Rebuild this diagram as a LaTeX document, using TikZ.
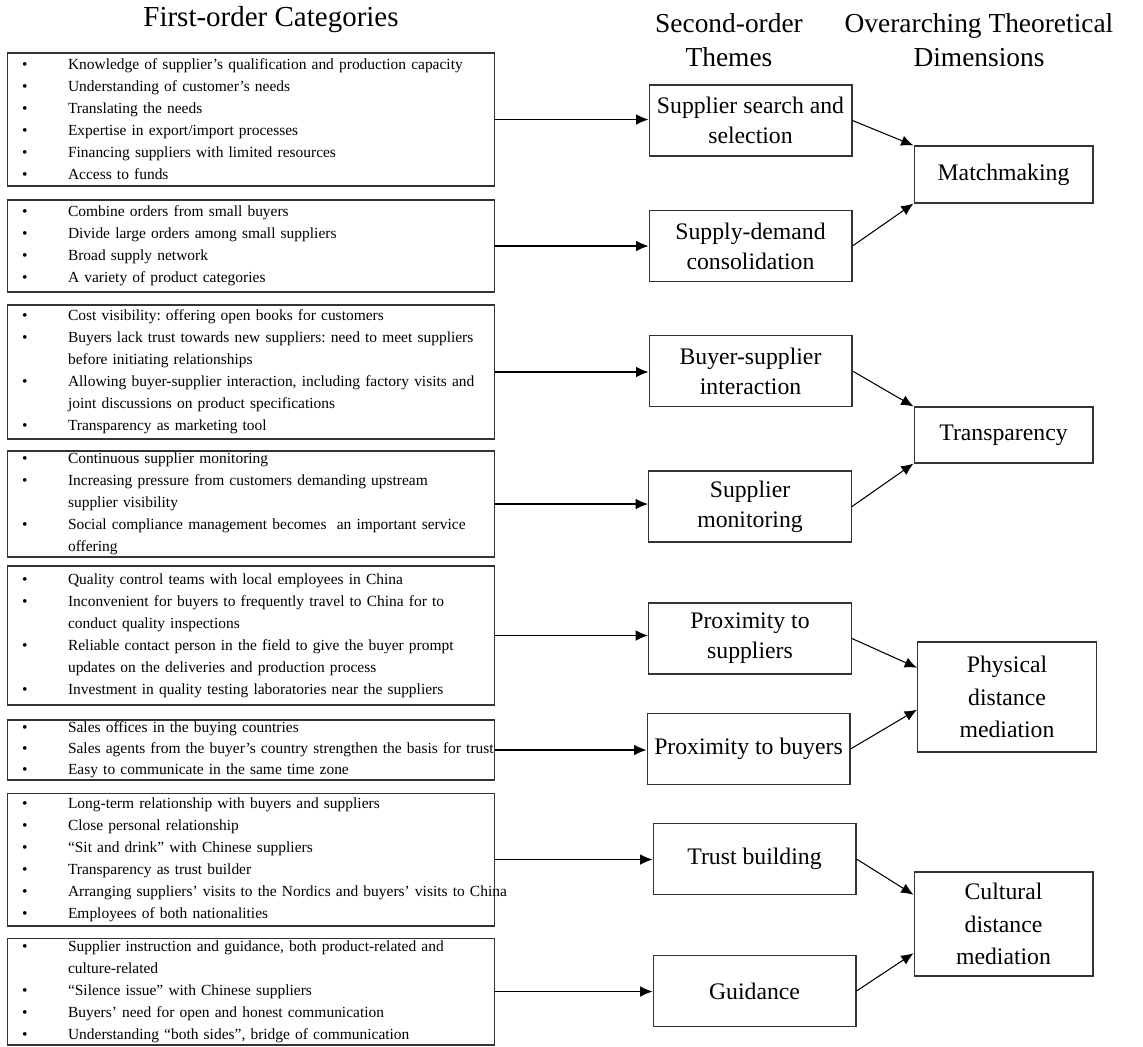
\documentclass[tikz,border=0pt]{standalone}
\usepackage{fontspec}
\setmainfont{Liberation Serif}
\frenchspacing
\usepackage{tikz}
\usetikzlibrary{shapes,arrows.meta}
\tikzstyle{cat} = [rectangle, draw=black!80, line width=0.6pt, text width=9.76cm, inner xsep=0pt, inner ysep=0pt, align=left, font=\fontsize{8.8}{12.5}\selectfont]
\tikzstyle{theme} = [rectangle, draw=black!80, line width=0.6pt, minimum width=4.06cm, minimum height=1.42cm, inner xsep=2pt, align=center, font=\fontsize{13.5}{17}\selectfont]
\tikzstyle{dim} = [rectangle, draw=black!80, line width=0.6pt, minimum width=3.58cm, inner xsep=2pt, align=center, font=\fontsize{13.5}{18.5}\selectfont]
\tikzstyle{head} = [align=center, font=\fontsize{15.6}{19.3}\selectfont]
\tikzstyle{line} = [draw, line width=0.6pt, -{Latex[length=7pt,width=6pt]}]
\newcommand{\bl}{\hspace*{0.3cm}\makebox[0.92cm][l]{\textbullet}}
\newcommand{\ind}{\hspace*{1.22cm}}

\begin{document}
\begin{tikzpicture}[x=0.02cm, y=-0.02cm]
\useasboundingbox (0,0) rectangle (1143,1046);
\node [head, font=\fontsize{16.5}{19.3}\selectfont] (h-cat) at (271,20) {First-order Categories};
\node [head] (h-theme) at (729,40) {Second-order\\Themes};
\node [head] (h-dim) at (979,40) {Overarching Theoretical\\Dimensions};
\node [cat, minimum height=2.66cm] (c-search) at (251,119.5) {\bl Knowledge of supplier's qualification and production capacity\\ \bl Understanding of customer's needs\\ \bl Translating the needs\\ \bl Expertise in export/import processes\\ \bl Financing suppliers with limited resources\\ \bl Access to funds};
\node [cat, minimum height=1.84cm] (c-consol) at (251,246) {\bl Combine orders from small buyers\\ \bl Divide large orders among small suppliers\\ \bl Broad supply network\\ \bl A variety of product categories};
\node [cat, minimum height=2.68cm] (c-inter) at (251,372) {\bl Cost visibility: offering open books for customers\\ \bl Buyers lack trust towards new suppliers: need to meet suppliers\\ \ind before initiating relationships\\ \bl Allowing buyer-supplier interaction, including factory visits and\\ \ind joint discussions on product specifications\\ \bl Transparency as marketing tool};
\node [cat, minimum height=2.12cm] (c-monit) at (251,504) {\bl Continuous supplier monitoring\\ \bl Increasing pressure from customers demanding upstream\\ \ind supplier visibility\\ \bl Social compliance management becomes\ \ an important service\\ \ind offering};
\node [cat, minimum height=2.78cm] (c-psup) at (251,635.5) {\bl Quality control teams with local employees in China\\ \bl Inconvenient for buyers to frequently travel to China for to\\ \ind conduct quality inspections\\ \bl Reliable contact person in the field to give the buyer prompt\\ \ind updates on the deliveries and production process\\ \bl Investment in quality testing laboratories near the suppliers};
\node [cat, minimum height=1.2cm, font=\fontsize{8.8}{12}\selectfont] (c-pbuy) at (251,750) {\bl Sales offices in the buying countries\\ \mbox{\bl Sales agents from the buyer's country strengthen the basis for trust}\\ \bl Easy to communicate in the same time zone};
\node [cat, minimum height=2.66cm] (c-trust) at (251,859.5) {\bl Long-term relationship with buyers and suppliers\\ \bl Close personal relationship\\ \bl ``Sit and drink'' with Chinese suppliers\\ \bl Transparency as trust builder\\ \mbox{\bl Arranging suppliers' visits to the Nordics and buyers' visits to China}\\ \bl Employees of both nationalities};
\node [cat, minimum height=2.14cm] (c-guide) at (251,991.5) {\bl Supplier instruction and guidance, both product-related and\\ \ind culture-related\\ \bl ``Silence issue'' with Chinese suppliers\\ \bl Buyers' need for open and honest communication\\ \bl Understanding ``both sides'', bridge of communication};
\node [theme] (t-search) at (750.5,120.5) {Supplier search and\\selection};
\node [theme] (t-consol) at (750.5,246) {Supply-demand\\consolidation};
\node [theme] (t-inter) at (750.5,371) {Buyer-supplier\\interaction};
\node [theme] (t-monit) at (750,506.5) {Supplier\\monitoring};
\node [theme] (t-psup) at (750,638.5) {Proximity to\\suppliers};
\node [theme] (t-pbuy) at (748.5,749) {Proximity to buyers};
\node [theme] (t-trust) at (754.5,859) {Trust building};
\node [theme] (t-guide) at (754.5,991) {Guidance};
\node [dim, minimum height=1.14cm] (d-match) at (1003.5,174.5) {Matchmaking};
\node [dim, minimum height=1.12cm] (d-transp) at (1003.5,435) {Transparency};
\node [dim, minimum height=2.2cm] (d-phys) at (1007,697) {Physical\\distance\\mediation};
\node [dim, minimum height=2.08cm] (d-cult) at (1003.5,924) {Cultural\\distance\\mediation};
\path [line] (c-search.east) -- (c-search.east -| t-search.west);
\path [line] (c-consol.east) -- (c-consol.east -| t-consol.west);
\path [line] (c-inter.east) -- (c-inter.east -| t-inter.west);
\path [line] (c-monit.east) -- (c-monit.east -| t-monit.west);
\path [line] (c-psup.east) -- (c-psup.east -| t-psup.west);
\path [line] (c-pbuy.east) -- (c-pbuy.east -| t-pbuy.west);
\path [line] (c-trust.east) -- (c-trust.east -| t-trust.west);
\path [line] (c-guide.east) -- (c-guide.east -| t-guide.west);
\path [line] (t-search.east) -- (d-match.north west);
\path [line] (t-consol.east) -- (d-match.south west);
\path [line] (t-inter.east) -- (d-transp.north west);
\path [line] (t-monit.east) -- (d-transp.south west);
\path [line] (t-psup.east) -- (d-phys.162);
\path [line] (t-pbuy.east) -- (d-phys.188);
\path [line] (t-trust.east) -- (d-cult.162);
\path [line] (t-guide.east) -- (d-cult.198);
\end{tikzpicture}
\end{document}
